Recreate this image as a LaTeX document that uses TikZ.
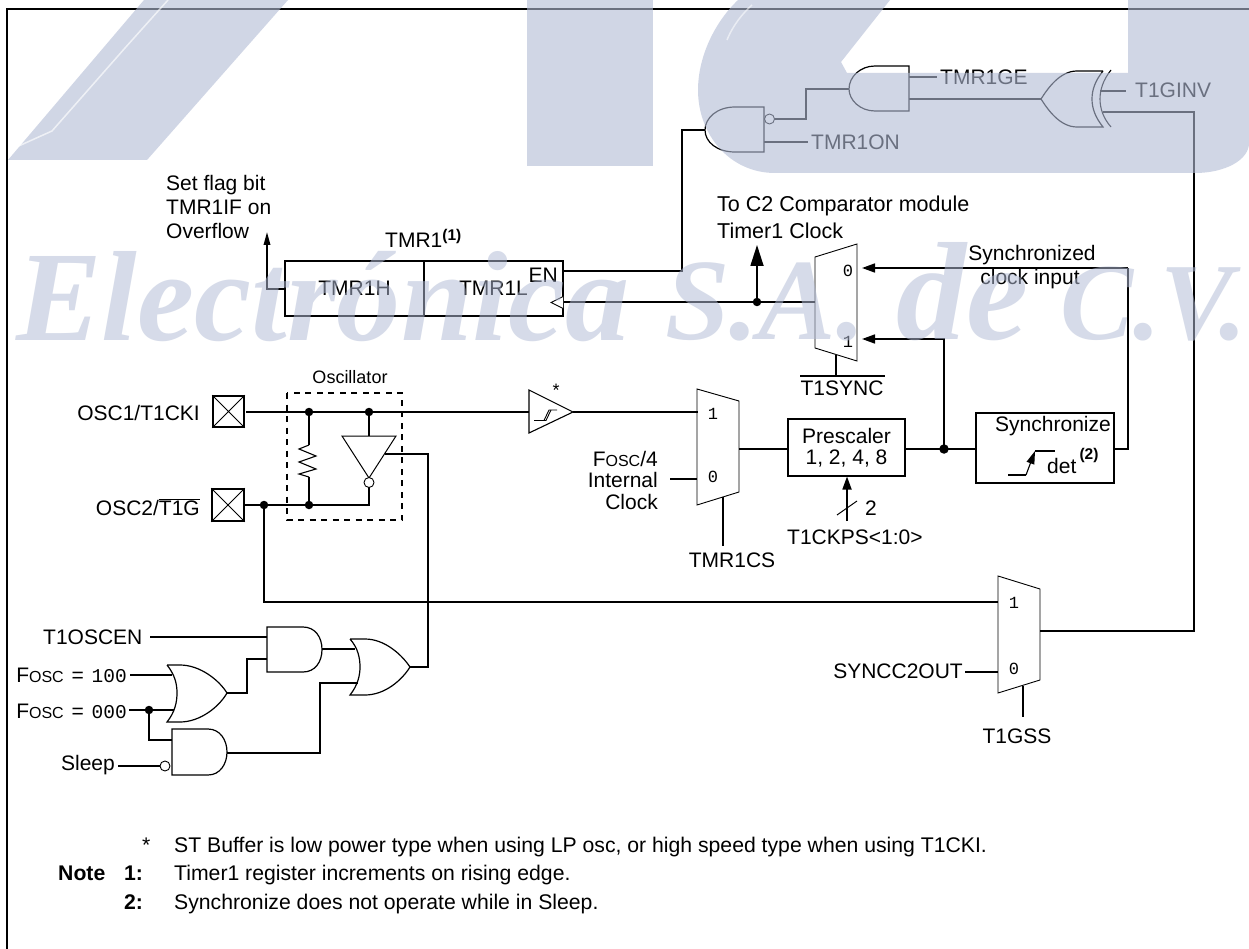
\documentclass[tikz,border=0pt]{standalone}
\usepackage{fontspec}
\setmainfont{Liberation Sans}
\newfontfamily\wmfont{Liberation Serif}
\newfontfamily\monofnt{Liberation Mono}
\usetikzlibrary{arrows.meta}
\definecolor{wmark}{RGB}{177,187,213}
\definecolor{ink}{RGB}{0,0,0}
\newcommand{\lf}{\fontsize{21}{24}\selectfont}
\newcommand{\nf}{\fontsize{21.2}{24}\selectfont}
\newcommand{\scf}{\fontsize{16}{18}\selectfont}
\newcommand{\mnf}{\monofnt\fontsize{17}{20}\selectfont}
\newcommand{\mng}{\monofnt\fontsize{19.5}{20}\selectfont}
\newcommand{\ovl}[1]{\ensuremath{\overline{\mbox{#1}}}}
\newcommand{\fosc}{F{\scf OSC}}
\newcommand{\supb}[1]{\raisebox{7pt}{\fontsize{15.5}{18}\selectfont\bfseries #1}}
\tikzset{
  wire/.style={line width=1.7pt,draw=ink,line join=miter},
  thin shape/.style={line width=0.9pt,draw=ink},
  gatebody/.style={line width=1.2pt,draw=ink,fill=white},
  boxn/.style={draw=ink,line width=1.6pt,inner sep=0pt,fill=white},
  lbl/.style={inner sep=0pt,font=\lf},
  lbll/.style={lbl,anchor=west,align=left},
  lblr/.style={lbl,anchor=east,align=right},
  nt/.style={inner sep=0pt,font=\nf,anchor=base west},
  dig/.style={inner sep=0pt,font=\mnf},
  dot/.style={circle,fill=ink,inner sep=0pt,minimum size=8.5pt},
  bub/.style={circle,draw=ink,fill=white,line width=0.9pt,inner sep=0pt,minimum size=10pt},
  big arrow/.style={-{Triangle[length=21pt,width=13pt]}},
  mid arrow/.style={-{Triangle[length=13pt,width=9pt]}},
  slim arrow/.style={-{Triangle[length=13pt,width=6.5pt]}},
  wm/.style={inner sep=0pt,anchor=base west,text=wmark,text opacity=.52,font=\wmfont\bfseries\itshape\fontsize{128}{130}\selectfont},
}
\begin{document}
\begin{tikzpicture}[x=1pt,y=-1pt]
\useasboundingbox (0,0) rectangle (1249,949);
\fill[white] (0,0) rectangle (1249,949);
% frame
\draw[line width=1.6pt] (7,949) -- (7,9) -- (1249,9);

% ---------- boxes
\node[boxn,minimum width=139pt,minimum height=55pt,font=\lf] (tmrh) at (354.5,288.5) {\raisebox{-2.5pt}{TMR1H}};
\node[boxn,minimum width=139pt,minimum height=55pt,font=\lf] (tmrl) at (493.5,288.5) {\raisebox{-2.5pt}{TMR1L}};
\node[lbl,anchor=east] (en) at (558,275) {EN};
\node[lbl,anchor=base west] (tmr1) at (385,248) {TMR1\supb{(1)}};
\node[inner sep=0pt,align=left,anchor=north west,font=\fontsize{21}{24}\selectfont] (flag) at (166,175) {Set flag bit\\TMR1IF on\\Overflow};
\node[boxn,minimum width=117pt,minimum height=57pt,align=center,font=\fontsize{21}{21}\selectfont] (pre) at (846.5,447.5) {Prescaler\\1, 2, 4, 8};
\node[boxn,minimum width=138pt,minimum height=70pt] (syn) at (1045,448) {};
\node[lbl] (synl) at (1053,426) {Synchronize};
\node[lbl,anchor=base west] (det) at (1047,473) {det};
\node[inner sep=0pt,font=\fontsize{15.5}{18}\selectfont\bfseries] (det2) at (1089,455) {(2)};

% ---------- pads
\node[draw=ink,line width=1.6pt,minimum width=31pt,minimum height=31pt,inner sep=0pt] (pad1) at (228.5,411.5) {};
\node[draw=ink,line width=1.6pt,minimum width=32pt,minimum height=32pt,inner sep=0pt] (pad2) at (228,505) {};
\draw[thin shape] (pad1.north west) -- (pad1.south east) (pad1.north east) -- (pad1.south west);
\draw[thin shape] (pad2.north west) -- (pad2.south east) (pad2.north east) -- (pad2.south west);
\node[lblr] (osc1) at (200,413) {OSC1/T1CKI};
\node[lblr] (osc2) at (200,507) {OSC2/\ovl{T1G}};
\node[inner sep=0pt,font=\fontsize{18}{20}\selectfont] (oscl) at (350,377) {Oscillator};
\draw[line width=1.2pt,dashed,dash pattern=on 6pt off 5.5pt] (287,393) rectangle (402,520);

% ---------- named pins
\coordinate (p1o) at (246,412);
\coordinate (j1c) at (309,412);
\coordinate (j2c) at (369,412);
\coordinate (bufin) at (529,412);
\coordinate (bufout) at (573,412);
\coordinate (mca1) at (698,412);
\coordinate (mca0) at (697,479);
\coordinate (f4) at (670,479);
\coordinate (mcaout) at (739,449);
\coordinate (preL) at (788,449);
\coordinate (preR) at (905,449);
\coordinate (mcasel) at (723,497);
\coordinate (mcaselb) at (723,546);
\coordinate (junc3) at (944,449);
\coordinate (synL) at (976,449);
\coordinate (synR) at (1114,449);
\coordinate (cor1) at (1128,449);
\coordinate (msyn0) at (862,268);
\coordinate (msyn1) at (862,339);
\coordinate (msynL) at (815,302);
\coordinate (clkT) at (563,302);
\coordinate (enR) at (563,271);
\coordinate (naIn) at (705,130);
\coordinate (invtop) at (369,436);
\coordinate (invbub) at (369,482);
\coordinate (invR) at (385,454);
\coordinate (invout) at (428,454);
\coordinate (orout) at (410,667);
\coordinate (p2o) at (244,505);
\coordinate (j1b) at (264,505);
\coordinate (j2b) at (309,505);
\coordinate (invb) at (369,505);
\coordinate (mg1) at (998,602);
\coordinate (mg0) at (998,672);
\coordinate (s2o) at (965,672);
\coordinate (mgo) at (1040,631);
\coordinate (mgsel) at (1023,686);
\coordinate (mgselb) at (1023,717);
\coordinate (xin) at (1103,112);
\coordinate (xcor) at (1194,112);
\coordinate (encor) at (682,271);
\coordinate (encor2) at (682,130);

% ---------- wires
\draw[wire] (p1o) -- (bufin);
\draw[wire] (bufout) -- (mca1);
\draw[wire] (f4) -- (mca0);
\draw[wire] (mcaout) -- (preL);
\draw[wire] (preR) -- (synL);
\draw[wire] (mcasel) -- (mcaselb);
\draw[wire] (synR) -- (cor1) -- (cor1 |- msyn0);
\draw[wire,mid arrow] (cor1 |- msyn0) -- (msyn0);
\draw[wire,mid arrow] (junc3) |- (msyn1);
\draw[wire] (enR) -- (encor) -- (encor2) -- (naIn);
\draw[wire] (msynL) -- (clkT);
\draw[wire] (j2c) -- (invtop);
\draw[wire] (invbub) -- (invb) -- (p2o);
\draw[wire] (invR) -- (invout) -- (invout |- orout) -- (orout);
\draw[wire] (j1b) |- (mg1);
\draw[wire] (s2o) -- (mg0);
\draw[wire] (mgsel) -- (mgselb);
\draw[wire] (mgo) -| (xcor) -- (xin);
% resistor
\draw[wire] (j1c) -- (309,445);
\draw[line width=1.1pt] (309,445) -- (299,449) -- (316,456) -- (299,462) -- (316,469) -- (299,474) -- (309,477);
\draw[line width=1.3pt] (309,477) -- (j2b);
% clock marker
\draw[line width=.9pt,fill=white] (563,296.5) -- (551,302.5) -- (563,308.5);
% overflow
\coordinate (ovf) at (267,232);
\coordinate (ovs) at (285,289);
\draw[wire,slim arrow] (ovs) -| (ovf);
\node[dot] (jclk) at (757,302) {};
\coordinate (c2) at (757,245);
\draw[wire,big arrow] (jclk) -- (c2);
\node[dot] (d1) at (j1c) {};
\node[dot] (d2) at (j2c) {};
\node[dot] (d3) at (j1b) {};
\node[dot] (d4) at (j2b) {};
\node[dot,minimum size=9.5pt] (d5) at (junc3) {};

% labels around muxes
\node[lbll,font=\fontsize{21.5}{24}\selectfont] (toc2) at (717,205.5) {To C2 Comparator module};
\node[lbll,font=\fontsize{21.5}{24}\selectfont] (toc3) at (717,231) {Timer1 Clock};
\node[lbl] (sc1) at (1032,255) {Synchronized};
\node[lbl] (sc2) at (1030,279) {clock input};
\node[lbl] (t1sync) at (842,388) {T1SYNC};
\coordinate (ovA) at (800,376); \coordinate (ovB) at (885,376);
\coordinate (mssel) at (836,355);
\draw[line width=1.3pt] (ovA) -- (ovB);
\draw[wire] (mssel) -- (mssel |- ovA);
\node[lbl,align=right,anchor=east,font=\fontsize{21}{21.5}\selectfont] (fosc4) at (658,480) {\fosc/4\\Internal\\Clock};
\node[lbl] (tmr1cs) at (732,560) {TMR1CS};
\node[lbl,anchor=west] (ckps) at (787,537) {T1CKPS<1:0>};
\node[lbl] (two) at (871,508) {2};
\coordinate (ckb) at (847,521); \coordinate (ckt) at (847,476.5);
\draw[wire,mid arrow] (ckb) -- (ckt);
\draw[line width=1pt] (837,515) -- (857,501);
\node[lblr] (sync2) at (963,671) {SYNCC2OUT};
\node[lbl] (t1gss) at (1017,736) {T1GSS};

% muxes
\draw[thin shape,fill=none] (815,257) -- (857,244) -- (857,361) -- (815,348) -- cycle;
\draw[thin shape] (697,389) -- (739,401) -- (739,492) -- (697,505) -- cycle;
\draw[thin shape] (998,576) -- (1040,589) -- (1040,680) -- (998,693) -- cycle;
\node[dig] (m1a) at (848,271) {0};
\node[dig] (m1b) at (848,342) {1};
\node[dig] (m2a) at (713,414) {1};
\node[dig] (m2b) at (713,477) {0};
\node[dig] (m3a) at (1014,603) {1};
\node[dig] (m3b) at (1014,669) {0};

% st buffer
\draw[thin shape,line width=1.1pt,fill=white] (529,390) -- (573,412) -- (529,433) -- cycle;
\draw[line width=.9pt] (534,420.5) -- (544,420.5) -- (549,410) -- (557,410);
\draw[line width=.9pt] (540,420.5) -- (546,420.5) -- (551,410);
\node[inner sep=0pt,font=\fontsize{18}{20}\selectfont] (star) at (556,390) {*};

% inverter
\draw[gatebody,line width=1pt] (342,436) -- (396,436) -- (369,478) -- cycle;
\node[bub] (invb0) at (369,482.5) {};

% synchronize edge
\coordinate (e1) at (1008,475); \coordinate (e2) at (1026,475); \coordinate (e3) at (1035,451); \coordinate (e4) at (1055,451);
\draw[line width=1.1pt] (e1) -- (e2);
\draw[line width=1.1pt,-{Triangle[length=13pt,width=8pt]}] (e2) -- (e3);
\draw[line width=1.1pt] (e3) -- (e4);

% ---------- logic bottom
\node[lbl,anchor=west] (t1osc) at (43,637) {T1OSCEN};
\coordinate (a1i) at (267,637);
\coordinate (t1w) at (150,637);
\draw[wire] (t1w) -- (a1i);
\node[lbl,anchor=east] (f100) at (127,675) {\fosc{}\kern2pt{} = \kern2pt{\mng 100}};
\node[lbl,anchor=east] (f000) at (127,711) {\fosc{}\kern2pt{} = \kern2pt{\mng 000}};
\node[lblr] (sleep) at (115,765) {Sleep};
\coordinate (o1a) at (172,675);
\coordinate (o1b) at (175,710);
\coordinate (a2a) at (172,740);
\coordinate (a2b) at (160,766);
\draw[wire] (f100.east) ++(3,0) -- (o1a);
\draw[wire] (f000.east) ++(2,-1) -- (o1b);
\node[dot] (d6) at (149,710) {};
\draw[wire] (d6) |- (a2a);
\draw[wire] (sleep.east) ++(3,1) -- (a2b);
\node[bub] (b2) at (165,766) {};
% small OR
\draw[gatebody] (167,665) -- (180,665) .. controls (200,665) and (219,680) .. (227,693) .. controls (219,707) and (200,722) .. (180,722) -- (167,722) .. controls (175,712) and (177,702) .. (177,693) .. controls (177,684) and (175,675) .. (167,665);
% AND top
\draw[gatebody] (267,627) -- (303,627) .. controls (315,627) and (322,637) .. (322,649.5) .. controls (322,662) and (315,672) .. (303,672) -- (267,672) -- cycle;
% AND low
\draw[gatebody] (172,729) -- (208,729) .. controls (220,729) and (227,740) .. (227,752) .. controls (227,764) and (220,775) .. (208,775) -- (172,775) -- cycle;
% big OR
\draw[gatebody] (350,639) -- (365,639) .. controls (385,639) and (402,655) .. (410,667) .. controls (402,680) and (385,695) .. (365,695) -- (350,695) .. controls (358,685) and (360,675) .. (360,667) .. controls (360,658) and (358,648) .. (350,639);
\draw[wire] (227,693) -| (247,659) -- (267,659);
\draw[wire] (322,649) -- (355,649);
\draw[wire] (227,753) -| (320,683) -- (358,683);

% ---------- top gates
\draw[wire] (774,119) -| (806,89) -- (849,89);
\draw[wire] (764,142) -- (808,142);
\draw[wire] (909,77) -- (937,77);
\draw[wire] (909,99) -- (1041,99);
\draw[gatebody] (764,107) -- (735,107) .. controls (717,107) and (705,118) .. (705,130) .. controls (705,142) and (717,152) .. (735,152) -- (764,152) -- cycle;
\node[bub] (nb) at (769.5,119) {};
\draw[gatebody] (909,66) -- (875,66) .. controls (860,66) and (849,77) .. (849,89) .. controls (849,100) and (860,111) .. (875,111) -- (909,111) -- cycle;
\draw[gatebody] (1103,71) -- (1077,71) .. controls (1060,71) and (1048,88) .. (1041,99) .. controls (1048,110) and (1060,127) .. (1077,127) -- (1103,127) .. controls (1095,117) and (1092,108) .. (1092,99) .. controls (1092,90) and (1095,81) .. (1103,71);
\draw[line width=1.1pt] (1111,70) .. controls (1103,80) and (1100,90) .. (1100,99) .. controls (1100,108) and (1103,118) .. (1111,127);
\draw[wire] (1100,91) -- (1126,91);
\draw[wire] (xin) -- (xcor);
\node[lbl,anchor=west] (tmr1ge) at (940,77) {TMR1GE};
\node[lbl,anchor=west] (tmr1on) at (811,142) {TMR1ON};
\node[lbl,anchor=west] (t1ginv) at (1135,90) {T1GINV};

% ---------- notes
\node[nt] (n0s) at (142,852) {*};
\node[nt] (n0) at (174,852) {ST Buffer is low power type when using LP osc, or high speed type when using T1CKI.};
\node[nt,font=\nf\bfseries] (n1h) at (58,880) {Note};
\node[nt,font=\nf\bfseries] (n1n) at (124,880) {1:};
\node[nt] (n1) at (174,880) {Timer1 register increments on rising edge.};
\node[nt,font=\nf\bfseries] (n2n) at (124,909) {2:};
\node[nt] (n2) at (174,909) {Synchronize does not operate while in Sleep.};

% ---------- watermark (on top, translucent)
\fill[wmark,opacity=.6] (8,160) -- (147,160) -- (288,0) -- (144,0) -- cycle;
\draw[white,opacity=.65,line width=1.5pt] (12,149) -- (52,131) -- (125,48) -- (168,0);
\fill[wmark,opacity=.6] (527,0) rectangle (653,166);
\fill[wmark,opacity=.6] (738,0) .. controls (712,25) and (698,60) .. (698,90) .. controls (698,135) and (730,173) .. (775,173) -- (1195,173) .. controls (1225,173) and (1249,160) .. (1249,143) -- (1249,0) -- (1128,0) -- (1128,73) -- (847,73) -- (841,62) -- (890,0) -- cycle;
\draw[white,opacity=.55,line width=1.5pt] (727,40) .. controls (733,25) and (743,13) .. (752,5);
\node[wm] (w1) at (16,340) {\resizebox{613pt}{!}{Electrónica}};
\node[wm] (w2) at (665,340) {\resizebox{200pt}{!}{S.A.}};
\node[wm] (w3) at (896,340) {\resizebox{132pt}{!}{de}};
\node[wm] (w4) at (1060,340) {\resizebox{187pt}{!}{C.V.}};
\end{tikzpicture}
\end{document}
